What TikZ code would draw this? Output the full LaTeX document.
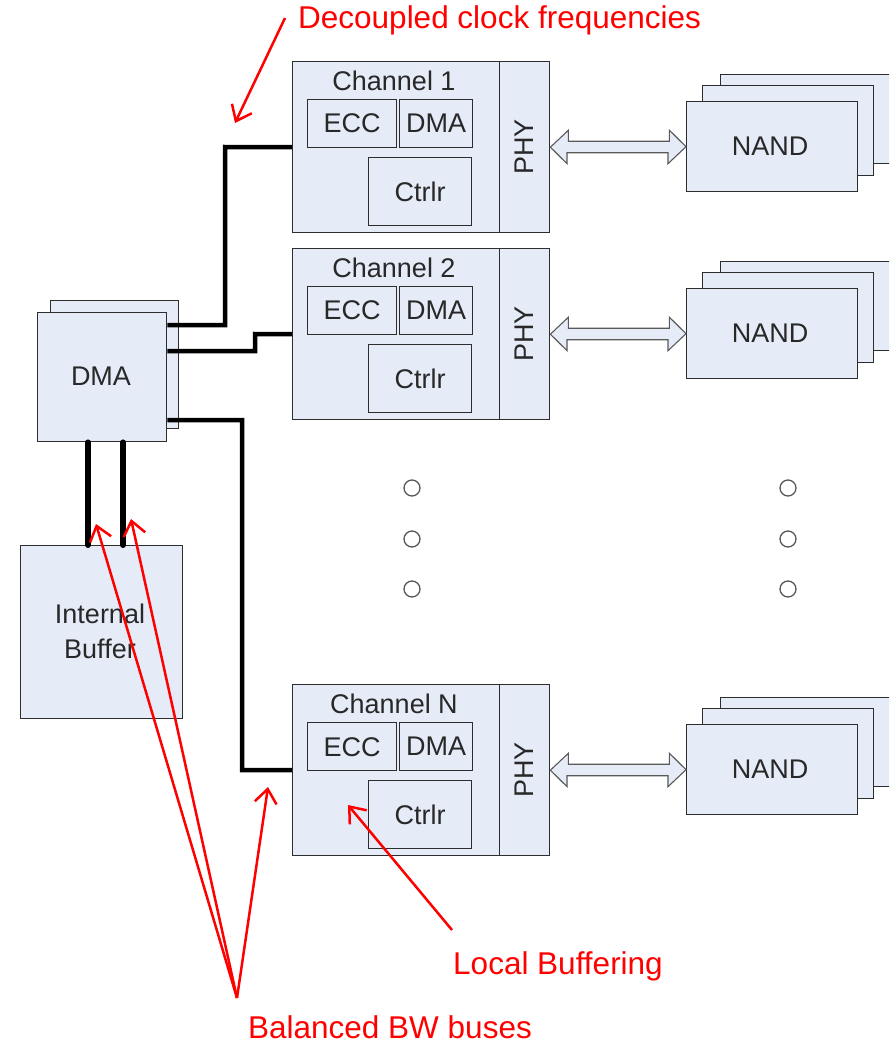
\documentclass[tikz,border=0pt]{standalone}
\usepackage{fontspec}
\setmainfont{Liberation Sans}
\usetikzlibrary{calc,arrows.meta}
\definecolor{boxfill}{RGB}{230,236,247}
\definecolor{boxline}{RGB}{45,45,45}
\definecolor{txt}{RGB}{40,40,40}
\definecolor{anno}{RGB}{255,0,0}
\tikzset{
  blk/.style={draw=boxline, fill=boxfill, line width=1.4pt, inner sep=0pt, anchor=north west},
  lbl/.style={text=txt, font=\fontsize{27}{30}\selectfont, inner sep=0pt},
  redtxt/.style={text=anno, font=\fontsize{31.5}{35}\selectfont, inner sep=0pt},
  link/.style={line width=4.5pt, black},
  bus/.style={line width=6pt, black, line cap=round},
  dbl/.style={draw=black!65, fill=boxfill, line width=1.1pt, line join=miter},
  ann/.style={draw=anno, line width=2.5pt, -{Straight Barb[length=14pt,width=22pt,line width=2.5pt]}},
  dot/.style={draw=black!65, fill=white, line width=1.3pt},
}
\begin{document}
\begin{tikzpicture}[x=1pt,y=-1pt]
\clip (0,0) rectangle (889,1044);
\fill[white] (0,0) rectangle (889,1044);

% DMA stack
\node[blk, minimum width=128pt, minimum height=128pt] (dmaback) at (50,300) {};
\node[blk, minimum width=129pt, minimum height=129pt] (dma) at (37,312) {};
\node[lbl] (dmalbl) at (101,376) {DMA};

% Internal buffer
\node[blk, minimum width=162pt, minimum height=173pt] (buf) at (20,545) {};
\node[lbl, align=center] (buflbl) at (100,631) {Internal\\[5pt]Buffer};

% Channels and NAND stacks
\foreach \n/\off in {1/0, 2/187, N/623}{
  \begin{scope}[shift={(0,\off)}]
    \node[blk, minimum width=207pt, minimum height=171pt] (body\n) at (292,61) {};
    \node[blk, minimum width=50pt, minimum height=171pt] (phy\n) at (499,61) {};
    \node[lbl] (chlbl\n) at (394,81) {Channel \n};
    \node[blk, minimum width=89pt, minimum height=48pt] (ecc\n) at (307,99) {};
    \node[lbl] at (ecc\n.center) {ECC};
    \node[blk, minimum width=73pt, minimum height=48pt] (cdma\n) at (399,99) {};
    \node[lbl] at (cdma\n.center) {DMA};
    \node[blk, minimum width=103pt, minimum height=68pt] (ctrl\n) at (368,157) {};
    \node[lbl] at (ctrl\n.center) {Ctrlr};
    \node[lbl, rotate=90] (phylbl\n) at (phy\n.center) {PHY};
    % NAND stack
    \node[blk, minimum width=171pt, minimum height=89pt] (nandb\n) at (720,74) {};
    \node[blk, minimum width=171pt, minimum height=90pt] (nandm\n) at (702,85) {};
    \node[blk, minimum width=171pt, minimum height=90pt] (nand\n) at (686,101) {};
    \node[lbl] at (770,146) {NAND};
    % double arrow
    \draw[dbl] (phy\n.east) -- ++(18,-17) -- ++(0,11) -- ++(101,0) -- ++(0,-11)
       -- (nand\n.west) -- ++(-18,17) -- ++(0,-11) -- ++(-101,0) -- ++(0,11) -- cycle;
  \end{scope}
}

% links from DMA to channels
\draw[link] ([yshift=-13pt]dma.north east) -| (225,147) -- (body1.west);
\draw[link] ([yshift=-39pt]dma.north east) -| (255,334) -- (body2.west);
\draw[link] ([yshift=-108pt]dma.north east) -| (242,770) -- (bodyN.west);

% buses DMA - buffer
\draw[bus] ([xshift=51pt]dma.south west) -- ([xshift=68pt]buf.north west);
\draw[bus] ([xshift=86pt]dma.south west) -- ([xshift=103pt]buf.north west);

% ellipsis dots
\foreach \y in {488,539,589}{
  \draw[dot] (412,\y) circle (8);
  \draw[dot] (788,\y) circle (8);
}

% annotations
\node[redtxt, anchor=west] (decoup) at (298,20) {Decoupled clock frequencies};
\node[redtxt] (localbuf) at (558,966) {Local Buffering};
\node[redtxt] (balbw) at (390,1027) {Balanced BW buses};
\coordinate (decA) at (285,18);
\coordinate (decT) at (235,123);
\coordinate (balA) at (237,998);
\coordinate (balT1) at (96,524);
\coordinate (balT2) at (131,519);
\coordinate (balT3) at (268,787);
\coordinate (locA) at (452,930);
\coordinate (locT) at (348,805);
\draw[ann] (decA) -- (decT);
\draw[ann] (balA) -- (balT1);
\draw[ann] (balA) -- (balT2);
\draw[ann] (balA) -- (balT3);
\draw[ann] (locA) -- (locT);
\end{tikzpicture}
\end{document}
